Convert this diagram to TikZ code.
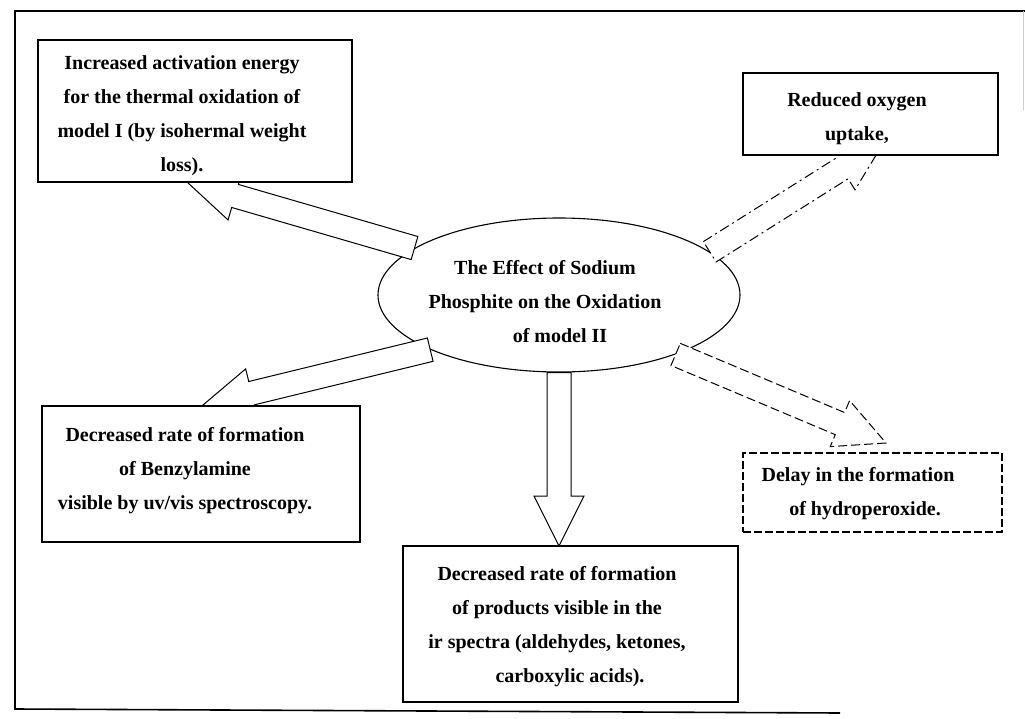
\documentclass[tikz,border=0pt]{standalone}
\usepackage{fontspec}
\setmainfont{Liberation Serif}
\usetikzlibrary{calc,shapes.geometric}

\begin{document}
\begin{tikzpicture}[x=1pt,y=-1pt,
        box/.style={draw, line width=1.1pt, fill=white, inner sep=0pt},
        txt/.style={align=center, inner sep=0pt, font=\bfseries\fontsize{20}{34}\selectfont},
        blockarrow/.style={draw, fill=white, line width=1pt, line join=miter,
            to path={let \p1=($(\tikztotarget)-(\tikztostart)$), \n1={atan2(\y1,\x1)}, \n2={veclen(\x1,\y1)} in
                [shift={(\tikztostart)}, rotate=\n1]
                (0pt,12pt) -- (\n2*1pt-50pt,12pt) -- (\n2*1pt-50pt,25pt) -- (\n2*1pt,0pt)
                -- (\n2*1pt-50pt,-25pt) -- (\n2*1pt-50pt,-12pt) -- (0pt,-12pt) -- cycle}}]

    \useasboundingbox (0,0) rectangle (1025,719);

    % frame round the whole chart
    \draw[line width=1.6pt] (1025,11) -- (15,11) -- (15,709) -- (840,713);
    \draw[black!20, line width=0.8pt] (1023,11) -- (1023,110);

    % centre
    \node[ellipse, draw, line width=1.1pt, fill=white, minimum width=362pt, minimum height=154pt, inner sep=0pt] (eff) at (559,295) {};
    \node[txt] (efftxt) at (545,302) {The Effect of Sodium\\Phosphite on the Oxidation\\\hspace*{30pt}of model II};

    % arrows out of the ellipse
    \coordinate (tip1) at (187,182);
    \coordinate (tip2) at (884,142);
    \coordinate (tip3) at (203,405);
    \coordinate (tip4) at (559,546);
    \coordinate (tip5) at (886,443);
    \draw[blockarrow] (eff.162) to (tip1);
    \draw[blockarrow, dash pattern=on 10pt off 4pt on 2pt off 4pt] (eff.16) to (tip2);
    \draw[blockarrow] (eff.203) to (tip3);
    \draw[blockarrow] (eff.south) to (tip4);
    \draw[blockarrow, dash pattern=on 9pt off 4pt] (eff.333) to (tip5);

    % effects
    \node[box, minimum width=314pt, minimum height=142pt] (b1) at (195,111) {};
    \node[txt] (b1txt) at (182,116) {Increased activation energy\\for the thermal oxidation of\\model I (by isohermal weight\\loss).};

    \node[box, minimum width=255pt, minimum height=82pt] (b2) at (870.5,114) {};
    \node[txt] (b2txt) at (857,119) {Reduced oxygen\\uptake,};

    \node[box, minimum width=318pt, minimum height=136pt] (b3) at (201,474) {};
    \node[txt] (b3txt) at (185,471) {Decreased rate of formation\\of Benzylamine\hspace*{12pt}\\visible by uv/vis spectroscopy.};

    \node[box, minimum width=335pt, minimum height=156pt] (b4) at (570.5,624) {};
    \node[txt] (b4txt) at (557,627) {Decreased rate of formation\\of products visible in the\\ir spectra (aldehydes, ketones,\\\hspace*{26pt}carboxylic acids).};

    \node[box, dash pattern=on 8pt off 3pt, minimum width=259pt, minimum height=79pt] (b5) at (872.5,492.5) {};
    \node[txt] (b5txt) at (858,494) {Delay in the formation\\\hspace*{14pt}of hydroperoxide.};
\end{tikzpicture}
\end{document}
